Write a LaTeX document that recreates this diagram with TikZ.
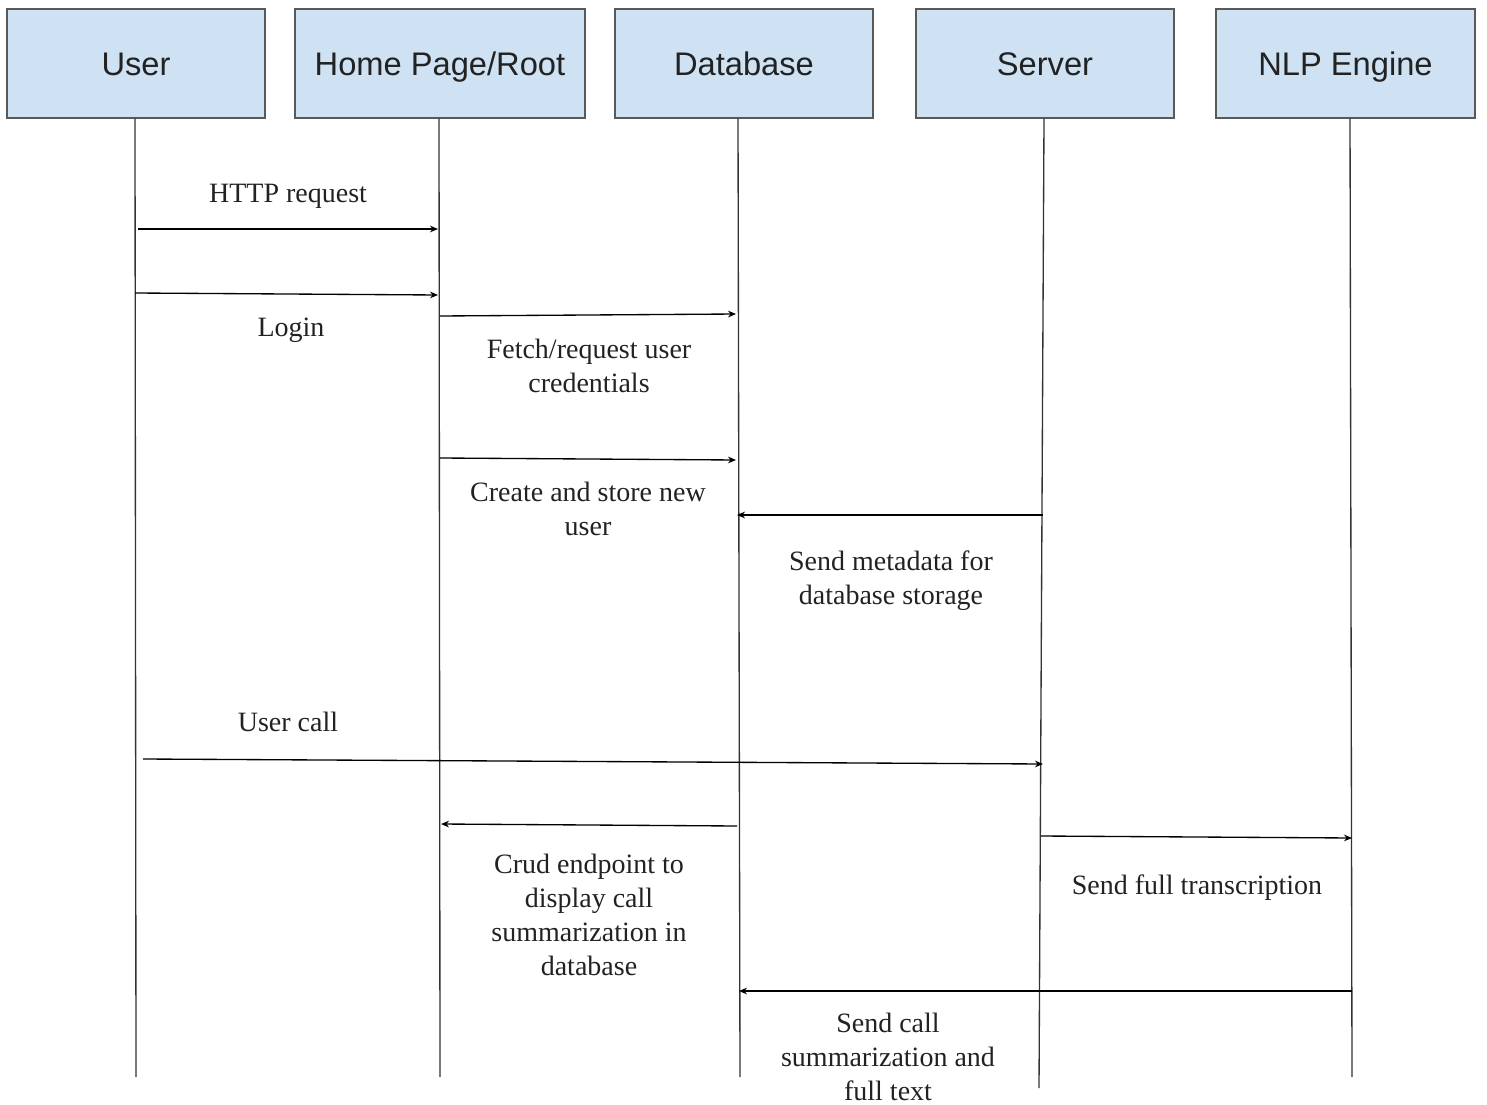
\documentclass[tikz,border=0pt]{standalone}
\usepackage{fontspec}
\setmainfont{Liberation Serif}
\newfontfamily\hdrfont{Liberation Sans}
\usetikzlibrary{arrows.meta}
\definecolor{boxfill}{HTML}{CFE2F3}
\definecolor{boxline}{HTML}{595959}
\definecolor{txt}{HTML}{222222}
\begin{document}
\begin{tikzpicture}[x=0.75pt,y=-0.75pt,
  actor/.style={draw=boxline,fill=boxfill,line width=1pt,minimum height=81.75pt,inner sep=0pt,
    text height=17.5pt,text depth=0pt,
    font=\hdrfont\fontsize{24.5}{28}\selectfont,text=txt},
  life/.style={draw=black!80,line width=1pt},
  msg/.style={draw=black,line width=1pt,-{Stealth[length=6pt,width=5pt]}},
  lbl/.style={font=\fontsize{21}{25.5}\selectfont,text=txt,align=center,inner sep=0pt}]
\useasboundingbox (0,0) rectangle (1487,1105);
% actors
\node[actor,minimum width=193.5pt] (user) at (136,63.5) {User};
\node[actor,minimum width=217.5pt] (home) at (440,63.5) {Home Page/Root};
\node[actor,minimum width=193.5pt] (db) at (744,63.5) {Database};
\node[actor,minimum width=193.5pt] (srv) at (1045,63.5) {Server};
\node[actor,minimum width=194.25pt] (nlp) at (1345.5,63.5) {NLP Engine};
% lifeline ends
\coordinate (userB) at (136,1077);
\coordinate (homeB) at (440,1077);
\coordinate (dbB) at (740,1077);
\coordinate (srvB) at (1039,1088);
\coordinate (nlpB) at (1352,1077);
\draw[life] (user.south -| 135,0) -- (userB);
\draw[life] (home.south -| 439,0) -- (homeB);
\draw[life] (db.south -| 738,0) -- (dbB);
\draw[life] (srv.south -| 1044,0) -- (srvB);
\draw[life] (nlp.south -| 1350,0) -- (nlpB);
% message end points
\coordinate (m1a) at (138,229);  \coordinate (m1b) at (438,229);
\coordinate (m2a) at (135,293);  \coordinate (m2b) at (438,295);
\coordinate (m3a) at (440,316);  \coordinate (m3b) at (736,314);
\coordinate (m4a) at (440,458);  \coordinate (m4b) at (736,460);
\coordinate (m5a) at (1043,515); \coordinate (m5b) at (737,515);
\coordinate (m6a) at (143,759);  \coordinate (m6b) at (1043,764);
\coordinate (m7a) at (737,826);  \coordinate (m7b) at (441,824);
\coordinate (m8a) at (1041,836); \coordinate (m8b) at (1352,838);
\coordinate (m9a) at (1352,991); \coordinate (m9b) at (739,991);
\draw[msg] (m1a) -- (m1b);
\draw[msg] (m2a) -- (m2b);
\draw[msg] (m3a) -- (m3b);
\draw[msg] (m4a) -- (m4b);
\draw[msg] (m5a) -- (m5b);
\draw[msg] (m6a) -- (m6b);
\draw[msg] (m7a) -- (m7b);
\draw[msg] (m8a) -- (m8b);
\draw[msg] (m9a) -- (m9b);
% labels
\node[lbl] (l1) at (288,196) {HTTP request};
\node[lbl] (l2) at (291,330) {Login};
\node[lbl] (l3) at (589,366) {Fetch/request user\\credentials};
\node[lbl] (l4) at (588,509) {Create and store new\\user};
\node[lbl] (l5) at (891,581) {Send metadata for\\database storage};
\node[lbl] (l6) at (288,722) {User call};
\node[lbl] (l7) at (589,915) {Crud endpoint to\\display call\\summarization in\\database};
\node[lbl] (l8) at (1197,888) {Send full transcription};
\node[lbl] (l9) at (888,1057) {Send call\\summarization and\\full text};
\end{tikzpicture}
\end{document}
